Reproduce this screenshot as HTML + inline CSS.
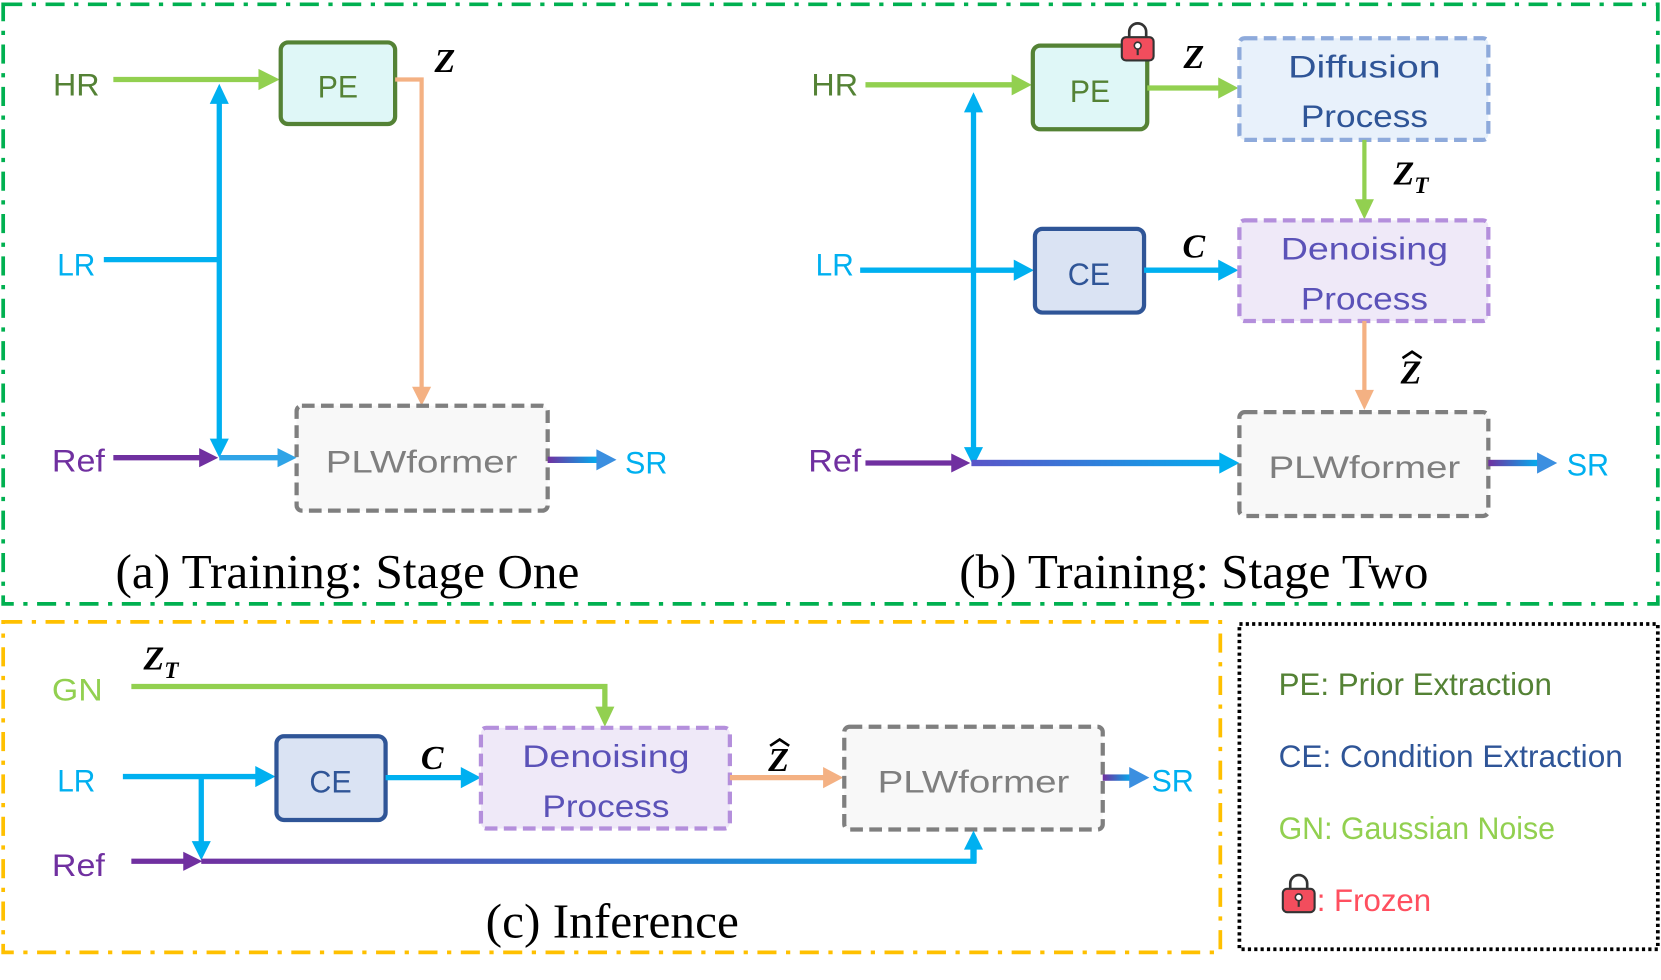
<!DOCTYPE html>
<html><head><meta charset="utf-8"><style>html,body{margin:0;padding:0;background:#fff}svg{display:block}
.t{font-family:"Liberation Sans",sans-serif;font-size:30px}
.cap{font-family:"Liberation Serif",serif;font-size:46px;fill:#000}
.m{font-family:"Liberation Serif",serif;font-size:32px;font-weight:bold;font-style:italic;fill:#000}
</style></head><body>
<svg width="1661" height="980" viewBox="0 0 1568 925" xmlns="http://www.w3.org/2000/svg">
<defs>
<linearGradient id="g1" x1="0" x2="1"><stop offset="0" stop-color="#7030a0"/><stop offset="1" stop-color="#00b0f0"/></linearGradient>
<linearGradient id="g2" gradientUnits="userSpaceOnUse" x1="190" x2="919" y1="0" y2="0"><stop offset="0" stop-color="#7030a0"/><stop offset="1" stop-color="#00b0f0"/></linearGradient>
<linearGradient id="g3" gradientUnits="userSpaceOnUse" x1="917" x2="1168" y1="0" y2="0"><stop offset="0" stop-color="#5a55c8"/><stop offset="1" stop-color="#00b0f0"/></linearGradient>
<g id="lock"><path d="M-8,-6 v-6 a8,8 0 0 1 16,0 v6" fill="none" stroke="#333" stroke-width="2.5"/><rect x="-15" y="-7" width="30" height="22" rx="4" fill="#f24d5d" stroke="#333" stroke-width="2"/><circle cx="0" cy="1" r="3.2" fill="#fff" stroke="#333" stroke-width="1.5"/><line x1="0" y1="4" x2="0" y2="10" stroke="#333" stroke-width="2"/></g>
</defs>
<rect x="3" y="4" width="1562" height="566" fill="none" stroke="#00b050" stroke-width="3.5" stroke-dasharray="18,9,4,9"/>
<rect x="3" y="587" width="1149" height="312" fill="none" stroke="#ffc000" stroke-width="3.5" stroke-dasharray="18,9,4,9"/>
<rect x="1170" y="589" width="395" height="307" fill="none" stroke="#000" stroke-width="3.5" stroke-dasharray="3,3"/>

<!-- (a) -->
<text class="t" x="72" y="90" fill="#548235" text-anchor="middle" font-size="34" textLength="44" lengthAdjust="spacingAndGlyphs">HR</text>
<line x1="107" y1="75" x2="248" y2="75" stroke="#92d050" stroke-width="5"/><polygon points="244,65 264,75 244,85" fill="#92d050"/>
<rect x="265" y="40" width="108" height="77" rx="7" fill="#dff7f7" stroke="#548235" stroke-width="4"/>
<text class="t" x="319" y="92" fill="#548235" text-anchor="middle" font-size="36" textLength="38" lengthAdjust="spacingAndGlyphs">PE</text>
<polyline points="373,75 398,75 398,368" fill="none" stroke="#f4b183" stroke-width="4"/><polygon points="389,365 398,383 407,365" fill="#f4b183"/>
<text class="m" x="420" y="68" text-anchor="middle">Z</text>
<text class="t" x="72" y="260" fill="#00b0f0" text-anchor="middle" font-size="34" textLength="36" lengthAdjust="spacingAndGlyphs">LR</text>
<line x1="98" y1="245" x2="207" y2="245" stroke="#00b0f0" stroke-width="5"/>
<line x1="207" y1="96" x2="207" y2="416" stroke="#00b0f0" stroke-width="5"/><polygon points="198,98 207,79 216,98" fill="#00b0f0"/><polygon points="198,414 207,432 216,414" fill="#00b0f0"/>
<text class="t" x="74" y="445" fill="#7030a0" text-anchor="middle" font-size="34" textLength="50" lengthAdjust="spacingAndGlyphs">Ref</text>
<line x1="107" y1="432" x2="190" y2="432" stroke="#7030a0" stroke-width="5"/><polygon points="188,423 206,432 188,441" fill="#7030a0"/>
<line x1="207" y1="432" x2="264" y2="432" stroke="#2fa4e7" stroke-width="5"/><polygon points="262,423 280,432 262,441" fill="#2fa4e7"/>
<rect x="280" y="383" width="237" height="99" rx="5" fill="#f8f8f8" stroke="#7f7f7f" stroke-width="4" stroke-dasharray="12,6"/>
<text class="t" x="398" y="446" fill="#7f7f7f" text-anchor="middle" font-size="37" textLength="181" lengthAdjust="spacingAndGlyphs">PLWformer</text>
<rect x="517" y="431" width="48" height="6" fill="url(#g1)"/><polygon points="563,424 582,434 563,444" fill="#3b8fe0"/>
<text class="t" x="610" y="447" fill="#00b0f0" text-anchor="middle" font-size="34" textLength="40" lengthAdjust="spacingAndGlyphs">SR</text>
<text class="cap" x="328" y="555" text-anchor="middle" textLength="438" lengthAdjust="spacingAndGlyphs">(a) Training: Stage One</text>

<!-- (b) -->
<text class="t" x="788" y="90" fill="#548235" text-anchor="middle" font-size="34" textLength="44" lengthAdjust="spacingAndGlyphs">HR</text>
<line x1="817" y1="80" x2="958" y2="80" stroke="#92d050" stroke-width="5"/><polygon points="955,70 974,80 955,90" fill="#92d050"/>
<rect x="975" y="43" width="108" height="79" rx="7" fill="#dff7f7" stroke="#548235" stroke-width="4"/>
<text class="t" x="1029" y="96" fill="#548235" text-anchor="middle" font-size="36" textLength="38" lengthAdjust="spacingAndGlyphs">PE</text>
<use href="#lock" x="1074" y="42"/>
<text class="m" x="1127" y="64" text-anchor="middle">Z</text>
<line x1="1083" y1="83" x2="1152" y2="83" stroke="#92d050" stroke-width="5"/><polygon points="1150,73 1169,83 1150,93" fill="#92d050"/>
<rect x="1170" y="36" width="235" height="96" rx="5" fill="#e8f1fb" stroke="#8eaadb" stroke-width="4" stroke-dasharray="12,6"/>
<text class="t" x="1288" y="73" fill="#2f5597" text-anchor="middle" font-size="36" textLength="144" lengthAdjust="spacingAndGlyphs">Diffusion</text>
<text class="t" x="1288" y="120" fill="#2f5597" text-anchor="middle" font-size="36" textLength="120" lengthAdjust="spacingAndGlyphs">Process</text>
<line x1="1288" y1="132" x2="1288" y2="192" stroke="#92d050" stroke-width="4"/><polygon points="1279,188 1288,207 1297,188" fill="#92d050"/>
<text class="m" x="1332" y="174" text-anchor="middle">Z<tspan font-size="22" dy="8">T</tspan></text>
<text class="t" x="788" y="260" fill="#00b0f0" text-anchor="middle" font-size="34" textLength="36" lengthAdjust="spacingAndGlyphs">LR</text>
<line x1="812" y1="255" x2="960" y2="255" stroke="#00b0f0" stroke-width="5"/><polygon points="957,245 976,255 957,265" fill="#00b0f0"/>
<line x1="919" y1="104" x2="919" y2="424" stroke="#00b0f0" stroke-width="5"/><polygon points="910,106 919,87 928,106" fill="#00b0f0"/><polygon points="910,422 919,440 928,422" fill="#00b0f0"/>
<rect x="977" y="216" width="103" height="79" rx="7" fill="#dae3f3" stroke="#2f5597" stroke-width="4"/>
<text class="t" x="1028" y="269" fill="#2f5597" text-anchor="middle" font-size="36" textLength="40" lengthAdjust="spacingAndGlyphs">CE</text>
<text class="m" x="1127" y="243" text-anchor="middle">C</text>
<line x1="1080" y1="255" x2="1152" y2="255" stroke="#00b0f0" stroke-width="5"/><polygon points="1150,245 1169,255 1150,265" fill="#00b0f0"/>
<rect x="1170" y="208" width="235" height="95" rx="5" fill="#efe9f8" stroke="#b48fdc" stroke-width="4" stroke-dasharray="12,6"/>
<text class="t" x="1288" y="245" fill="#5b52b8" text-anchor="middle" font-size="36" textLength="158" lengthAdjust="spacingAndGlyphs">Denoising</text>
<text class="t" x="1288" y="292" fill="#5b52b8" text-anchor="middle" font-size="36" textLength="120" lengthAdjust="spacingAndGlyphs">Process</text>
<line x1="1288" y1="303" x2="1288" y2="372" stroke="#f4b183" stroke-width="4"/><polygon points="1279,368 1288,387 1297,368" fill="#f4b183"/>
<text class="m" x="1332" y="362" text-anchor="middle">Z</text><path d="M1324,338 L1333,332 L1342,338" fill="none" stroke="#000" stroke-width="2.5"/>
<text class="t" x="788" y="445" fill="#7030a0" text-anchor="middle" font-size="34" textLength="50" lengthAdjust="spacingAndGlyphs">Ref</text>
<line x1="817" y1="437" x2="900" y2="437" stroke="#7030a0" stroke-width="5"/><polygon points="898,428 916,437 898,446" fill="#7030a0"/>
<rect x="917" y="434" width="236" height="6" fill="url(#g3)"/><polygon points="1151,427 1170,437 1151,447" fill="#00b0f0"/>
<rect x="1170" y="389" width="235" height="98" rx="5" fill="#f8f8f8" stroke="#7f7f7f" stroke-width="4" stroke-dasharray="12,6"/>
<text class="t" x="1288" y="451" fill="#7f7f7f" text-anchor="middle" font-size="37" textLength="181" lengthAdjust="spacingAndGlyphs">PLWformer</text>
<rect x="1405" y="434" width="48" height="6" fill="url(#g1)"/><polygon points="1451,427 1470,437 1451,447" fill="#3b8fe0"/>
<text class="t" x="1499" y="449" fill="#00b0f0" text-anchor="middle" font-size="34" textLength="40" lengthAdjust="spacingAndGlyphs">SR</text>
<text class="cap" x="1127" y="555" text-anchor="middle" textLength="443" lengthAdjust="spacingAndGlyphs">(b) Training: Stage Two</text>

<!-- (c) -->
<text class="t" x="73" y="661" fill="#92d050" text-anchor="middle" font-size="34" textLength="48" lengthAdjust="spacingAndGlyphs">GN</text>
<text class="m" x="152" y="632" text-anchor="middle">Z<tspan font-size="22" dy="8">T</tspan></text>
<polyline points="124,648 571,648 571,670" fill="none" stroke="#92d050" stroke-width="5"/><polygon points="562,667 571,686 580,667" fill="#92d050"/>
<text class="t" x="72" y="747" fill="#00b0f0" text-anchor="middle" font-size="34" textLength="36" lengthAdjust="spacingAndGlyphs">LR</text>
<line x1="116" y1="733" x2="244" y2="733" stroke="#00b0f0" stroke-width="5"/><polygon points="241,723 260,733 241,743" fill="#00b0f0"/>
<line x1="190" y1="733" x2="190" y2="796" stroke="#00b0f0" stroke-width="5"/><polygon points="181,794 190,812 199,794" fill="#00b0f0"/>
<rect x="261" y="695" width="103" height="79" rx="7" fill="#dae3f3" stroke="#2f5597" stroke-width="4"/>
<text class="t" x="312" y="748" fill="#2f5597" text-anchor="middle" font-size="36" textLength="40" lengthAdjust="spacingAndGlyphs">CE</text>
<text class="m" x="408" y="726" text-anchor="middle">C</text>
<line x1="364" y1="734" x2="438" y2="734" stroke="#00b0f0" stroke-width="5"/><polygon points="435,724 454,734 435,744" fill="#00b0f0"/>
<rect x="454" y="687" width="235" height="95" rx="5" fill="#efe9f8" stroke="#b48fdc" stroke-width="4" stroke-dasharray="12,6"/>
<text class="t" x="572" y="724" fill="#5b52b8" text-anchor="middle" font-size="36" textLength="158" lengthAdjust="spacingAndGlyphs">Denoising</text>
<text class="t" x="572" y="771" fill="#5b52b8" text-anchor="middle" font-size="36" textLength="120" lengthAdjust="spacingAndGlyphs">Process</text>
<text class="m" x="735" y="728" text-anchor="middle">Z</text><path d="M727,704 L736,698 L745,704" fill="none" stroke="#000" stroke-width="2.5"/>
<line x1="689" y1="734" x2="780" y2="734" stroke="#f4b183" stroke-width="5"/><polygon points="777,724 796,734 777,744" fill="#f4b183"/>
<rect x="797" y="686" width="244" height="97" rx="5" fill="#f8f8f8" stroke="#7f7f7f" stroke-width="4" stroke-dasharray="12,6"/>
<text class="t" x="919" y="748" fill="#7f7f7f" text-anchor="middle" font-size="37" textLength="181" lengthAdjust="spacingAndGlyphs">PLWformer</text>
<rect x="1041" y="731" width="28" height="6" fill="url(#g1)"/><polygon points="1066,724 1085,734 1066,744" fill="#3b8fe0"/>
<text class="t" x="1107" y="747" fill="#00b0f0" text-anchor="middle" font-size="34" textLength="40" lengthAdjust="spacingAndGlyphs">SR</text>
<text class="t" x="74" y="827" fill="#7030a0" text-anchor="middle" font-size="34" textLength="50" lengthAdjust="spacingAndGlyphs">Ref</text>
<line x1="124" y1="813" x2="176" y2="813" stroke="#7030a0" stroke-width="5"/><polygon points="173,804 191,813 173,822" fill="#7030a0"/>
<polyline points="190,813 919,813 919,800" fill="none" stroke="url(#g2)" stroke-width="5"/><rect x="916" y="795" width="6" height="20" fill="#00b0f0"/><polygon points="910,802 919,784 928,802" fill="#00b0f0"/>
<text class="cap" x="578" y="885" text-anchor="middle" textLength="239" lengthAdjust="spacingAndGlyphs">(c) Inference</text>

<!-- legend -->
<text class="t" x="1207" y="656" fill="#548235" font-size="32" textLength="258" lengthAdjust="spacingAndGlyphs">PE: Prior Extraction</text>
<text class="t" x="1207" y="724" fill="#2f5597" font-size="32" textLength="325" lengthAdjust="spacingAndGlyphs">CE: Condition Extraction</text>
<text class="t" x="1207" y="792" fill="#92d050" font-size="32" textLength="261" lengthAdjust="spacingAndGlyphs">GN: Gaussian Noise</text>
<use href="#lock" x="1226" y="846"/>
<text class="t" x="1243" y="860" fill="#ff4f5f" font-size="32" textLength="108" lengthAdjust="spacingAndGlyphs">: Frozen</text>
</svg>
</body></html>
